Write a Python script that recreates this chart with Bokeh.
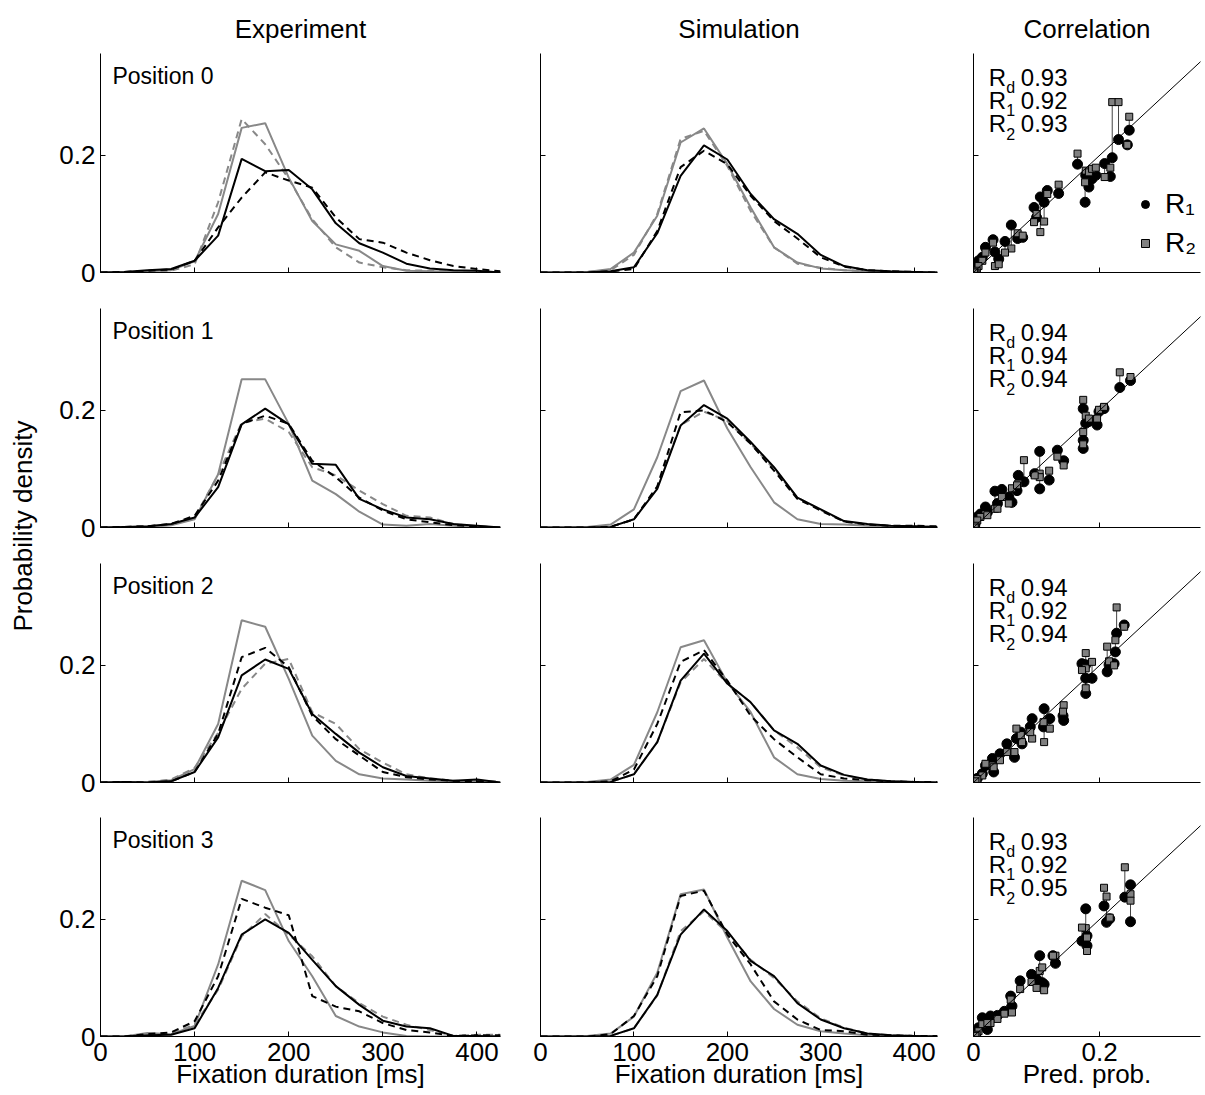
import math
from bokeh.plotting import figure
from bokeh.layouts import gridplot, row
from bokeh.models import (Range1d, FixedTicker, Slope, Label, Legend, LegendItem,
                          ColumnDataSource)
from bokeh.core.properties import value
from bokeh.embed import file_html
from bokeh.resources import INLINE

FONT = "Liberation Sans"

# ---------------- data ----------------
dur = [0, 25, 50, 75, 100, 125, 150, 175, 200, 225, 250, 275, 300, 325, 350, 375, 400, 425]

# Experiment, position 0..3 : k = black solid, kd = black dashed, g = gray solid, gd = gray dashed
exp_p0_k = [0, 0.001, 0.004, 0.006, 0.020, 0.063, 0.194, 0.173, 0.175, 0.142, 0.084, 0.050, 0.034, 0.015, 0.007, 0.004, 0.003, 0.000]
exp_p0_kd = [0, 0.001, 0.003, 0.005, 0.020, 0.077, 0.128, 0.171, 0.157, 0.145, 0.094, 0.057, 0.051, 0.034, 0.021, 0.011, 0.006, 0.002]
exp_p0_g = [0, 0, 0.002, 0.004, 0.019, 0.100, 0.247, 0.255, 0.162, 0.088, 0.048, 0.037, 0.011, 0.003, 0.002, 0.001, 0, 0]
exp_p0_gd = [0, 0, 0.002, 0.003, 0.014, 0.120, 0.262, 0.219, 0.160, 0.091, 0.043, 0.017, 0.009, 0.004, 0.003, 0.001, 0, 0]

exp_p1_k = [0, 0.001, 0.002, 0.006, 0.017, 0.069, 0.176, 0.203, 0.176, 0.109, 0.107, 0.049, 0.031, 0.017, 0.014, 0.006, 0.003, 0]
exp_p1_kd = [0, 0.001, 0.002, 0.006, 0.020, 0.080, 0.177, 0.191, 0.177, 0.114, 0.086, 0.051, 0.029, 0.014, 0.009, 0.004, 0.002, 0]
exp_p1_g = [0, 0, 0.001, 0.004, 0.014, 0.091, 0.253, 0.253, 0.177, 0.080, 0.057, 0.027, 0.005, 0.003, 0.006, 0.003, 0.001, 0]
exp_p1_gd = [0, 0.001, 0.002, 0.005, 0.017, 0.090, 0.179, 0.186, 0.163, 0.103, 0.089, 0.063, 0.040, 0.020, 0.017, 0.006, 0.002, 0]

exp_p2_k = [0, 0.001, 0, 0.002, 0.018, 0.077, 0.183, 0.210, 0.194, 0.117, 0.083, 0.051, 0.026, 0.011, 0.007, 0.003, 0.005, 0]
exp_p2_kd = [0, 0.001, 0, 0.002, 0.018, 0.083, 0.214, 0.230, 0.197, 0.114, 0.074, 0.046, 0.018, 0.009, 0.005, 0.003, 0.002, 0.001]
exp_p2_g = [0, 0, 0.001, 0.004, 0.023, 0.100, 0.277, 0.266, 0.177, 0.080, 0.037, 0.014, 0.007, 0.005, 0.003, 0.002, 0.001, 0]
exp_p2_gd = [0, 0, 0.001, 0.005, 0.025, 0.085, 0.160, 0.203, 0.211, 0.120, 0.100, 0.057, 0.034, 0.014, 0.007, 0.003, 0.002, 0]

exp_p3_k = [0, 0, 0.002, 0.003, 0.014, 0.083, 0.174, 0.200, 0.177, 0.131, 0.086, 0.054, 0.027, 0.017, 0.014, 0.001, 0.001, 0]
exp_p3_kd = [0, 0, 0.004, 0.007, 0.026, 0.103, 0.235, 0.220, 0.207, 0.069, 0.051, 0.043, 0.023, 0.011, 0.007, 0.001, 0.002, 0.002]
exp_p3_g = [0, 0, 0.006, 0.004, 0.018, 0.123, 0.266, 0.250, 0.163, 0.103, 0.035, 0.017, 0.007, 0.001, 0, 0, 0, 0]
exp_p3_gd = [0, 0, 0.003, 0.005, 0.020, 0.080, 0.171, 0.209, 0.174, 0.137, 0.086, 0.057, 0.034, 0.020, 0.011, 0.001, 0.003, 0.003]

# Simulation, position 0..3
sim_p0_k = [0, 0, 0, 0.002, 0.009, 0.067, 0.165, 0.217, 0.193, 0.134, 0.091, 0.066, 0.030, 0.011, 0.004, 0.002, 0.001, 0]
sim_p0_kd = [0, 0, 0, 0.002, 0.006, 0.071, 0.180, 0.208, 0.185, 0.131, 0.088, 0.058, 0.026, 0.010, 0.004, 0.002, 0.001, 0]
sim_p0_g = [0, 0, 0.001, 0.006, 0.034, 0.097, 0.222, 0.246, 0.185, 0.111, 0.043, 0.017, 0.007, 0.004, 0.002, 0.001, 0, 0]
sim_p0_gd = [0, 0, 0.001, 0.004, 0.030, 0.100, 0.228, 0.242, 0.182, 0.105, 0.043, 0.015, 0.008, 0.004, 0.002, 0.001, 0, 0]

sim_p1_k = [0, 0, 0, 0.001, 0.014, 0.066, 0.174, 0.209, 0.186, 0.146, 0.103, 0.051, 0.031, 0.011, 0.006, 0.003, 0.002, 0.001]
sim_p1_kd = [0, 0, 0, 0.001, 0.014, 0.070, 0.197, 0.200, 0.180, 0.143, 0.097, 0.049, 0.029, 0.010, 0.005, 0.003, 0.003, 0.002]
sim_p1_g = [0, 0, 0.001, 0.005, 0.031, 0.120, 0.233, 0.251, 0.169, 0.103, 0.043, 0.014, 0.006, 0.005, 0.003, 0.002, 0.001, 0]
sim_p1_gd = [0, 0, 0, 0.001, 0.014, 0.070, 0.175, 0.198, 0.182, 0.143, 0.100, 0.051, 0.030, 0.010, 0.005, 0.003, 0.002, 0.001]

sim_p2_k = [0, 0, 0, 0.001, 0.014, 0.069, 0.174, 0.220, 0.169, 0.137, 0.089, 0.066, 0.029, 0.013, 0.005, 0.002, 0.001, 0]
sim_p2_kd = [0, 0, 0, 0.002, 0.022, 0.100, 0.206, 0.226, 0.174, 0.114, 0.074, 0.043, 0.014, 0.007, 0.004, 0.002, 0.001, 0.001]
sim_p2_g = [0, 0, 0.001, 0.005, 0.030, 0.120, 0.231, 0.243, 0.171, 0.120, 0.043, 0.014, 0.006, 0.003, 0.002, 0.001, 0, 0]
sim_p2_gd = [0, 0, 0, 0.001, 0.014, 0.069, 0.171, 0.211, 0.169, 0.137, 0.089, 0.060, 0.026, 0.012, 0.005, 0.002, 0.001, 0]

sim_p3_k = [0, 0, 0, 0.001, 0.014, 0.071, 0.174, 0.217, 0.180, 0.129, 0.103, 0.057, 0.029, 0.014, 0.005, 0.002, 0.001, 0]
sim_p3_kd = [0, 0, 0, 0.004, 0.035, 0.103, 0.240, 0.249, 0.174, 0.123, 0.060, 0.029, 0.011, 0.009, 0.003, 0.002, 0.001, 0.001]
sim_p3_g = [0, 0, 0.001, 0.005, 0.034, 0.109, 0.243, 0.251, 0.169, 0.094, 0.047, 0.020, 0.009, 0.005, 0.002, 0.001, 0, 0]
sim_p3_gd = [0, 0, 0, 0.001, 0.014, 0.070, 0.180, 0.214, 0.177, 0.131, 0.100, 0.060, 0.031, 0.015, 0.005, 0.002, 0.001, 0]

# Correlation: predicted probability vs R1 / R2 values
cor_p0_x = [.220, .230, .247, .244, .165, .178, .177, .183, .188, .194, .208, .217, .096, .106, .112, .117, .135, .060, .070, .078, .050, .031, .034, .040, .019, .014, .008, .005, .003, .001, .100]
cor_p0_r1 = [.196, .227, .243, .218, .185, .166, .120, .146, .160, .166, .186, .164, .111, .129, .120, .140, .135, .081, .058, .060, .053, .056, .035, .023, .043, .026, .020, .010, .003, .001, .094]
cor_p0_r2 = [.291, .291, .266, .218, .203, .174, .154, .171, .177, .179, .163, .179, .086, .069, .087, .134, .150, .041, .067, .063, .034, .051, .011, .014, .034, .020, .011, .003, .000, .000, .100]

cor_p1_x = [.232, .249, .174, .178, .183, .174, .174, .196, .199, .207, .133, .143, .105, .105, .120, .097, .080, .071, .061, .069, .045, .034, .056, .038, .019, .011, .006, .003, .002, .022]
cor_p1_r1 = [.239, .251, .203, .178, .181, .149, .135, .175, .198, .203, .132, .114, .130, .066, .081, .092, .078, .089, .043, .063, .065, .062, .052, .041, .035, .023, .018, .009, .003, .026]
cor_p1_r2 = [.265, .257, .218, .191, .186, .163, .142, .186, .201, .206, .121, .106, .092, .086, .097, .089, .115, .075, .067, .072, .052, .032, .041, .032, .023, .018, .012, .003, .000, .021]

cor_p2_x = [.227, .239, .225, .212, .215, .223, .178, .178, .172, .188, .178, .143, .142, .112, .121, .111, .093, .090, .075, .068, .077, .065, .053, .042, .030, .032, .019, .014, .006, .003]
cor_p2_r1 = [.255, .269, .223, .189, .201, .203, .152, .201, .203, .178, .178, .106, .114, .126, .109, .095, .109, .095, .086, .075, .066, .043, .066, .049, .041, .018, .029, .015, .007, .005]
cor_p2_r2 = [.299, .266, .243, .232, .207, .200, .221, .195, .192, .206, .161, .132, .121, .069, .092, .103, .075, .086, .081, .092, .069, .052, .052, .038, .029, .026, .032, .012, .006, .002]

cor_p3_x = [.240, .249, .249, .207, .211, .216, .178, .172, .180, .180, .130, .126, .105, .109, .112, .092, .100, .074, .059, .061, .049, .038, .027, .014, .022, .008, .005, .003]
cor_p3_r1 = [.238, .259, .196, .223, .195, .201, .218, .163, .155, .172, .125, .138, .138, .092, .089, .106, .098, .095, .069, .052, .043, .036, .035, .032, .012, .015, .007, .003]
cor_p3_r2 = [.289, .243, .232, .254, .239, .203, .185, .186, .169, .146, .138, .138, .112, .118, .079, .093, .083, .081, .063, .041, .039, .030, .023, .021, .023, .009, .003, .001]

r_values = [["0.93", "0.92", "0.93"], ["0.94", "0.94", "0.94"], ["0.94", "0.92", "0.94"], ["0.93", "0.92", "0.95"]]
r_subs = ["d", "1", "2"]
positions = ["Position 0", "Position 1", "Position 2", "Position 3"]
col_titles = ["Experiment", "Simulation", "Correlation"]

exp_series = [(exp_p0_k, exp_p0_kd, exp_p0_g, exp_p0_gd), (exp_p1_k, exp_p1_kd, exp_p1_g, exp_p1_gd),
              (exp_p2_k, exp_p2_kd, exp_p2_g, exp_p2_gd), (exp_p3_k, exp_p3_kd, exp_p3_g, exp_p3_gd)]
sim_series = [(sim_p0_k, sim_p0_kd, sim_p0_g, sim_p0_gd), (sim_p1_k, sim_p1_kd, sim_p1_g, sim_p1_gd),
              (sim_p2_k, sim_p2_kd, sim_p2_g, sim_p2_gd), (sim_p3_k, sim_p3_kd, sim_p3_g, sim_p3_gd)]
cor_series = [(cor_p0_x, cor_p0_r1, cor_p0_r2), (cor_p1_x, cor_p1_r1, cor_p1_r2),
              (cor_p2_x, cor_p2_r1, cor_p2_r2), (cor_p3_x, cor_p3_r1, cor_p3_r2)]

# ---------------- layout constants ----------------
YMAX = 0.374
GRAY = "#888888"
TICK_FS = "26px"
LABEL_FS = "26px"
ROW_TOP = [53, 21, 21, 20]
ROW_BOT = [15, 15, 15, 59]
FRAME_H = 219
COL_LEFT = [60, 20, 18]
COL_RIGHT = [20, 18, 5]
COL_FRAME = [400, 397, 227]


def hide_labels(ax):
    ax.major_label_text_font_size = "1px"
    ax.major_label_text_color = None
    ax.major_label_standoff = 0


def base_fig(r, c, xr, xticks):
    last = (r == 3)
    p = figure(width=COL_LEFT[c] + COL_FRAME[c] + COL_RIGHT[c],
               height=ROW_TOP[r] + FRAME_H + ROW_BOT[r],
               x_range=Range1d(*xr), y_range=Range1d(0, YMAX),
               output_backend="svg", toolbar_location=None,
               min_border_left=COL_LEFT[c], min_border_right=COL_RIGHT[c],
               min_border_top=ROW_TOP[r], min_border_bottom=ROW_BOT[r])
    p.outline_line_color = None
    p.grid.visible = False
    p.background_fill_color = "white"
    p.border_fill_color = "white"
    p.xaxis.ticker = FixedTicker(ticks=xticks)
    p.yaxis.ticker = FixedTicker(ticks=[0, 0.2])
    for ax in (p.xaxis[0], p.yaxis[0]):
        ax.axis_line_color = "black"
        ax.axis_line_width = 1
        ax.major_tick_line_color = "black"
        ax.major_tick_in = 5
        ax.major_tick_out = 0
        ax.minor_tick_line_color = None
        ax.major_label_text_font = FONT
        ax.major_label_text_color = "black"
        ax.major_label_text_font_size = TICK_FS
        ax.axis_label_text_font = FONT
        ax.axis_label_text_font_style = "normal"
        ax.axis_label_text_color = "black"
        ax.axis_label_text_font_size = LABEL_FS
    p.xaxis.major_label_standoff = 6
    p.xaxis.axis_label_standoff = -5
    p.yaxis.major_label_standoff = 5
    if not last:
        hide_labels(p.xaxis[0])
    if c != 0:
        hide_labels(p.yaxis[0])
    if r == 0:
        p.title.text = col_titles[c]
        p.title.align = "center"
        p.title.text_font = FONT
        p.title.text_font_size = LABEL_FS
        p.title.text_font_style = "normal"
        p.title.text_color = "black"
        p.title.standoff = 20
    return p


def density_fig(r, c, series):
    p = base_fig(r, c, (0, 425), [0, 100, 200, 300, 400])
    k, kd, g, gd = series
    src = ColumnDataSource(dict(d=dur, k=k, kd=kd, g=g, gd=gd))
    p.line("d", "g", source=src, line_color=GRAY, line_width=2)
    p.line("d", "gd", source=src, line_color=GRAY, line_width=2, line_dash="7 5")
    p.line("d", "k", source=src, line_color="black", line_width=2)
    p.line("d", "kd", source=src, line_color="black", line_width=2, line_dash="7 5")
    if r == 3:
        p.xaxis.axis_label = "Fixation duration [ms]"
    if c == 0:
        p.add_layout(Label(x=12.7, y=0.335, text=positions[r], text_font=FONT,
                           text_font_size="23px", text_color="black",
                           text_baseline="alphabetic", text_align="left"))
    return p


def corr_fig(r, series):
    p = base_fig(r, 2, (0, 0.36), [0, 0.2])
    x, r1, r2 = series
    src = ColumnDataSource(dict(x=x, r1=r1, r2=r2))
    p.add_layout(Slope(gradient=1, y_intercept=0, line_color="black", line_width=1))
    p.segment(x0="x", y0="r1", x1="x", y1="r2", source=src, line_color="#444444", line_width=1)
    rc = p.scatter("x", "r1", source=src, marker="circle", size=10,
                   fill_color="black", line_color="black")
    rs = p.scatter("x", "r2", source=src, marker="square", size=7,
                   fill_color="#808080", line_color="black", line_width=1)
    if r == 3:
        p.xaxis.axis_label = "Pred. prob."
    ys = [0.333, 0.294, 0.255]
    ysub = [0.316, 0.277, 0.236]
    for i in range(3):
        p.add_layout(Label(x=0.024, y=ys[i], text="R", text_font=FONT, text_font_size="24px",
                           text_color="black", text_baseline="alphabetic"))
        p.add_layout(Label(x=0.052, y=ysub[i], text=r_subs[i], text_font=FONT,
                           text_font_size="16px", text_color="black",
                           text_baseline="alphabetic"))
        p.add_layout(Label(x=0.075, y=ys[i], text=r_values[r][i], text_font=FONT,
                           text_font_size="24px", text_color="black",
                           text_baseline="alphabetic"))
    if r == 0:
        leg = Legend(items=[LegendItem(label="R\u2081", renderers=[rc]),
                            LegendItem(label="R\u2082", renderers=[rs])],
                     location=(162, 13), orientation="vertical",
                     background_fill_alpha=0, border_line_color=None,
                     padding=0, margin=0, spacing=7,
                     glyph_width=20, glyph_height=30, label_height=30,
                     label_standoff=10, label_text_font=FONT,
                     label_text_font_size="28px", label_text_color="black")
        p.add_layout(leg)
    return p


rows = []
for r in range(4):
    rows.append([density_fig(r, 0, exp_series[r]),
                 density_fig(r, 1, sim_series[r]),
                 corr_fig(r, cor_series[r])])

grid = gridplot(rows, toolbar_location=None)

strip = figure(width=40, height=1095, x_range=Range1d(0, 1), y_range=Range1d(0, 1),
               output_backend="svg", toolbar_location=None,
               x_axis_location=None, y_axis_location=None,
               min_border_left=0, min_border_right=0, min_border_top=0, min_border_bottom=0)
strip.outline_line_color = None
strip.grid.visible = False
strip.text(x=[0.55], y=[0.52], text=["Probability density"], angle=math.pi / 2,
           text_align="center", text_baseline="middle", text_font=value(FONT),
           text_font_size=LABEL_FS, text_color="black")

layout = row(strip, grid)

with open("out.html", "w") as f:
    f.write(file_html(layout, INLINE))
